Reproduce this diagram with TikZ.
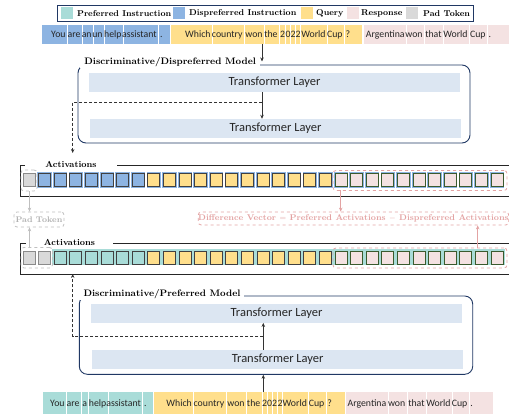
\documentclass[tikz,border=0pt]{standalone}
\usepackage{fontspec}
\newfontfamily\carl{Carlito}
\usetikzlibrary{arrows.meta}
\definecolor{cteal}{HTML}{A9DCD8}
\definecolor{cblue}{HTML}{8DB4E2}
\definecolor{cyel}{HTML}{FFDF8C}
\definecolor{cpink}{HTML}{F4E2E2}
\definecolor{cgray}{HTML}{D9D9D9}
\definecolor{clayer}{HTML}{DCE6F2}
\definecolor{cnavy}{HTML}{203864}
\definecolor{cred}{HTML}{E3A3A3}
\definecolor{cgrayd}{HTML}{BFBFBF}
\definecolor{cgtext}{HTML}{B0B0B0}
\definecolor{cgreen}{HTML}{3B5A2E}
\definecolor{cdark}{HTML}{404040}
\definecolor{cgsq}{HTML}{8A8A8A}
\tikzset{
  tok/.style={font=\carl\fontsize{9.8}{11}\selectfont, inner sep=0pt, text=black!85},
  layer/.style={fill=clayer, inner sep=0pt, font=\carl\fontsize{12.5}{13}\selectfont, text=black!85},
  model/.style={draw=cnavy, line width=0.9pt, rounded corners=8pt, inner sep=0pt},
  mlabel/.style={fill=white, inner sep=1pt, font=\bfseries\fontsize{9.4}{10}\selectfont},
  alabel/.style={fill=white, inner ysep=1pt, inner xsep=0pt, font=\bfseries\fontsize{8.8}{10}\selectfont},
  actbox/.style={draw=black!85, line width=0.9pt, inner sep=0pt},
  arr/.style={-{Stealth[length=4pt,width=3.5pt]}, line width=0.8pt, draw=black!80},
  darr/.style={arr, dash pattern=on 3pt off 2pt},
  legtxt/.style={font=\bfseries\fontsize{8.5}{10}\selectfont, inner sep=0pt, anchor=west},
  legsq/.style={minimum width=12pt, minimum height=12pt, inner sep=0pt},
  graydash/.style={draw=cgrayd, dashed, line width=0.8pt, rounded corners=3pt, inner sep=0pt},
  reddash/.style={draw=cred, dashed, line width=0.8pt, rounded corners=3pt, inner sep=0pt},
  grayarr/.style={-{Stealth[length=4pt,width=3.5pt]}, line width=0.8pt, draw=cgrayd},
  redarr/.style={-{Stealth[length=4pt,width=3.5pt]}, line width=0.8pt, draw=cred},
}
\begin{document}
\begin{tikzpicture}[x=1pt,y=-1pt]
\useasboundingbox (0,0) rectangle (509,414);

% ---------- legend ----------
\node[draw=cnavy, line width=0.9pt, minimum width=416pt, minimum height=16pt, inner sep=0pt] (legend) at (265,13) {};
\node[legsq, fill=cteal] (lg1) at (67,13) {};
\node[legtxt] (lt1) at (77,13.5) {Preferred Instruction};
\node[legsq, fill=cblue] (lg2) at (179,13) {};
\node[legtxt] (lt2) at (189,13.5) {Dispreferred Instruction};
\node[legsq, fill=cyel] (lg3) at (307,13) {};
\node[legtxt] (lt3) at (316,13.5) {Query};
\node[legsq, fill=cpink] (lg4) at (352.5,13) {};
\node[legtxt] (lt4) at (361,13.5) {Response};
\node[legsq, fill=cgray] (lg5) at (411.5,13) {};
\node[legtxt] (lt5) at (423,13.5) {Pad Token};

% ---------- top token row ----------
\foreach \l/\r in {42/67,68/82,83/93,94/104,105/123,124/158,159/170}
  \fill[cblue] (\l,25) rectangle (\r,44);
\foreach \l/\r in {171/212,213/244,245/264,265/279,280/285,286/290,291/295,296/300,301/327,328/344,345/362}
  \fill[cyel] (\l,25) rectangle (\r,44);
\foreach \l/\r in {364/406,407/424,425/443,444/469,470/487,488/512}
  \fill[cpink] (\l,25) rectangle (\r,44);
\foreach \x/\w [count=\k] in {65.8/You,80.8/are,91.8/an,102.8/un,121.8/help,156.8/assistant,210.8/Which,242.8/country,262.8/won,277.8/the,325.8/World,342.8/Cup,404.8/Argentina,422.8/won,441.8/that,467.8/World,485.8/Cup}
  \node[tok, anchor=base east] (ta\k) at (\x,38) {\w};
\foreach \x/\w [count=\k] in {160/.,345.5/?,488.5/.}
  \node[tok, anchor=base west] (tb\k) at (\x,38) {\w};
\foreach \x/\w [count=\k] in {282.5/2,288/0,293/2,298/2}
  \node[tok, anchor=base] (tc\k) at (\x,38) {\w};

% ---------- dispreferred model ----------
\node[model, minimum width=392pt, minimum height=78pt] (dmodel) at (274,104) {};
\node[mlabel, minimum width=179.5pt] (dlabel) at (170.2,62) {Discriminative/Dispreferred Model};
\node[layer, minimum width=371pt, minimum height=19pt] (dl1) at (274.5,82.5) {Transformer Layer};
\node[layer, minimum width=371pt, minimum height=19pt] (dl2) at (275.5,128.5) {Transformer Layer};
\coordinate (tin) at (262,44);
\coordinate (tout) at (262,61.5);
\draw[arr] (tin) -- (tout);
\draw[arr] (tin |- dl1.south) -- (tin |- dl2.north);
\coordinate (dj) at (262,102);
\coordinate (dend) at (72.7,153);
\draw[darr] (dj) -| (dend);

% ---------- top activations ----------
\node[actbox, minimum width=509.3pt, minimum height=31pt] (actT) at (275.35,180.5) {};
\node[alabel, minimum width=92pt] (actTl) at (71,164) {Activations};
\foreach \i in {1,...,30} {
  \pgfmathsetmacro\xx{23+15.6*\i}
  \fill[cblue] (\xx-1.2,172) rectangle (\xx+13.2,187.6);
}
\foreach \i in {0,...,30} {
  \pgfmathsetmacro\xx{23+15.6*\i}
  \ifnum\i=0 \def\fc{cgray}\def\bc{cgsq}\else
  \ifnum\i<8 \def\fc{cblue}\def\bc{cdark}\else
  \ifnum\i<20 \def\fc{cyel}\def\bc{cdark}\else
  \def\fc{cpink}\def\bc{cgreen}\fi\fi\fi
  \draw[line width=0.9pt, draw=\bc, fill=\fc] (\xx,173.3) rectangle (\xx+12,186.7);
}
\node[graydash, minimum width=16pt, minimum height=21pt] (padT) at (29,180.5) {};
\node[reddash, minimum width=174pt, minimum height=20pt] (respT) at (420,180.5) {};

% ---------- middle labels ----------
\node[graydash, minimum width=50pt, minimum height=15pt, text=cgtext, font=\bfseries\fontsize{8.2}{10}\selectfont] (padlbl) at (39,219.5) {Pad Token};
\node[reddash, minimum width=309pt, minimum height=13pt, text=cred, font=\bfseries\fontsize{8.35}{10}\selectfont] (difflbl) at (353.5,218.5) {Difference Vector $=$ Preferred Activations $-$ Dispreferred Activations};

% ---------- bottom activations ----------
\node[actbox, minimum width=509.3pt, minimum height=31pt] (actB) at (275.35,258.5) {};
\node[alabel, minimum width=87pt] (actBl) at (69.5,242) {Activations};
\foreach \i in {2,...,30} {
  \pgfmathsetmacro\xx{23+15.6*\i}
  \fill[cteal] (\xx-1.8,249.3) rectangle (\xx+13.8,265);
}
\foreach \i in {0,...,30} {
  \pgfmathsetmacro\xx{23+15.6*\i}
  \ifnum\i<2 \def\fc{cgray}\def\bc{cgsq}\else
  \ifnum\i<8 \def\fc{cteal}\def\bc{cdark}\else
  \ifnum\i<20 \def\fc{cyel}\def\bc{cdark}\else
  \def\fc{cpink}\def\bc{cgreen}\fi\fi\fi
  \draw[line width=0.9pt, draw=\bc, fill=\fc] (\xx,251) rectangle (\xx+12,264.4);
}
\node[graydash, minimum width=31.5pt, minimum height=20.5pt] (padB) at (36.7,257.7) {};
\node[reddash, minimum width=174pt, minimum height=20pt] (respB) at (420,258) {};

% ---------- middle arrows ----------
\coordinate (gx) at (29.5,191);
\draw[grayarr] (gx) -- (gx |- padlbl.north);
\draw[grayarr] (gx |- padB.north) -- (gx |- padlbl.south);
\coordinate (pd) at (340.7,190.5);
\draw[redarr] (pd) -- (pd |- difflbl.north);
\coordinate (pu) at (477.7,248);
\draw[redarr] (pu) -- (pu |- difflbl.south);

% ---------- preferred model ----------
\node[model, minimum width=393.4pt, minimum height=78.3pt] (pmodel) at (276,335.15) {};
\node[mlabel, minimum width=164pt] (plabel) at (162,294) {Discriminative/Preferred Model};
\node[layer, minimum width=371pt, minimum height=18.4pt] (pl1) at (276.5,313.5) {Transformer Layer};
\node[layer, minimum width=371.3pt, minimum height=19pt] (pl2) at (277.7,359.5) {Transformer Layer};
\coordinate (bin) at (263.3,391.7);
\draw[arr] (bin) -- (bin |- pmodel.south);
\draw[arr] (bin |- pl2.north) -- (bin |- pl1.south);
\coordinate (pj) at (263.3,336.7);
\coordinate (pend) at (72.7,274);
\draw[darr] (pj) -| (pend);

% ---------- bottom token row ----------
\foreach \l/\r in {43.3/66,67/81,82/88.3,89.3/107.7,108.7/142.3,143.3/152.7}
  \fill[cteal] (\l,391.7) rectangle (\r,414.3);
\foreach \l/\r in {153.7/193.3,194.3/225.7,226.7/246,247/261.7,262.7/266.7,267.7/271.7,272.7/276.7,277.7/282.3,283.3/308.3,309.3/325.7,326.7/345}
  \fill[cyel] (\l,391.7) rectangle (\r,414.3);
\foreach \l/\r in {346/387.7,388.7/406.7,407.7/426,427/452,453/468.7,469.7/492.7}
  \fill[cpink] (\l,391.7) rectangle (\r,414.3);
\foreach \x/\w [count=\k] in {64.8/You,79.8/are,87.3/a,106.5/help,141.1/assistant,192.1/Which,224.5/country,244.8/won,260.5/the,307.1/World,324.5/Cup,386.5/Argentina,405.5/won,424.8/that,450.8/World,467.5/Cup}
  \node[tok, anchor=base east] (ba\k) at (\x,406.3) {\w};
\foreach \x/\w [count=\k] in {143.8/.,327.2/?,470.2/.}
  \node[tok, anchor=base west] (bb\k) at (\x,406.3) {\w};
\foreach \x/\w [count=\k] in {264.7/2,269.7/0,274.7/2,280/2}
  \node[tok, anchor=base] (bc\k) at (\x,406.3) {\w};
\end{tikzpicture}
\end{document}
